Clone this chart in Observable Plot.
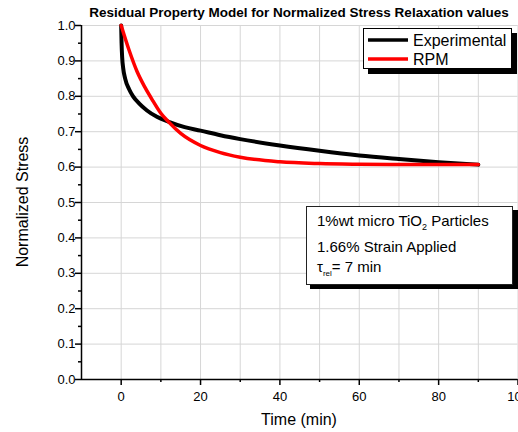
<!DOCTYPE html>
<html><head><meta charset="utf-8">
<script src="https://cdn.jsdelivr.net/npm/d3@7"></script>
<script src="https://cdn.jsdelivr.net/npm/@observablehq/plot@0.6"></script>
<style>
html,body{margin:0;padding:0;background:#fff;}
#chart{position:relative;width:518px;height:432px;overflow:hidden;}
</style></head><body><div id="chart"></div>
<script>
const chartTitle = "Residual Property Model for Normalized Stress Relaxation values";
const xLabel = "Time (min)";
const yLabel = "Normalized Stress";
const seriesNames = ["Experimental", "RPM"];
const seriesColors = ["#000000", "#ff0000"];

const expTime   = [0, 0.1, 0.25, 0.5, 1, 2, 3, 4.5, 6.5, 9, 12, 16, 20, 25, 30, 40, 50, 60, 70, 80, 90];
const expStress = [1.0, 0.95, 0.91, 0.88, 0.85, 0.82, 0.80, 0.78, 0.76, 0.742, 0.728, 0.713, 0.703, 0.690, 0.679, 0.661, 0.646, 0.633, 0.623, 0.614, 0.607];

const rpmTime   = [0, 2, 4, 6, 8, 10, 12, 15, 20, 25, 30, 40, 50, 60, 70, 80, 90];
const rpmStress = [1.0, 0.93, 0.87, 0.825, 0.787, 0.752, 0.727, 0.695, 0.661, 0.641, 0.628, 0.615, 0.610, 0.608, 0.607, 0.607, 0.607];

const xMajorTicks = [0, 20, 40, 60, 80, 100];
const xMinorTicks = [10, 30, 50, 70, 90];
const xGrid = [0, 10, 20, 30, 40, 50, 60, 70, 80, 90, 100];
const yMajorTicks = [0, 0.1, 0.2, 0.3, 0.4, 0.5, 0.6, 0.7, 0.8, 0.9, 1.0];
const yMinorTicks = [0.05, 0.15, 0.25, 0.35, 0.45, 0.55, 0.65, 0.75, 0.85, 0.95];

const expData = expTime.map((t, i) => ({t, s: expStress[i]}));
const rpmData = rpmTime.map((t, i) => ({t, s: rpmStress[i]}));

const font = "'Liberation Sans', Arial, sans-serif";

const plot = Plot.plot({
  width: 518, height: 432,
  marginLeft: 81, marginRight: 0.5, marginTop: 25, marginBottom: 53,
  style: {fontFamily: font, fontSize: "13px", color: "#000", background: "#fff", overflow: "visible"},
  x: {domain: [-10, 100]},
  y: {domain: [0, 1]},
  marks: [
    Plot.gridX(xGrid, {stroke: "#d6d6d6", strokeOpacity: 1, strokeWidth: 1}),
    Plot.gridY(yMajorTicks, {stroke: "#d6d6d6", strokeOpacity: 1, strokeWidth: 1}),
    Plot.axisX(xMajorTicks, {tickSize: 6, tickPadding: 6, strokeWidth: 1.5, tickFormat: d => String(d), label: null, fontSize: 13}),
    Plot.axisX(xMinorTicks, {tickSize: 3, strokeWidth: 1.5, tickFormat: () => "", label: null}),
    Plot.axisY(yMajorTicks, {tickSize: 6, tickPadding: 0, strokeWidth: 1.5, tickFormat: d => d.toFixed(1), label: null, fontSize: 13}),
    Plot.axisY(yMinorTicks, {tickSize: 3, strokeWidth: 1.5, tickFormat: () => "", label: null}),
    Plot.ruleX([-10], {stroke: "#000", strokeWidth: 1.5}),
    Plot.ruleY([0], {stroke: "#000", strokeWidth: 1.5}),
    Plot.line(expData, {x: "t", y: "s", stroke: seriesColors[0], strokeWidth: 4, curve: "monotone-x"}),
    Plot.line(rpmData, {x: "t", y: "s", stroke: seriesColors[1], strokeWidth: 3.5, curve: "monotone-x"})
  ]
});
document.getElementById("chart").appendChild(plot);

const svg = d3.select(plot);
// title
svg.append("text").attr("x", 299).attr("y", 17).attr("text-anchor", "middle")
  .style("font-family", font).style("font-size", "13.5px").style("font-weight", "bold").attr("fill", "#000").text(chartTitle);
// axis labels
svg.append("text").attr("x", 299).attr("y", 425).attr("text-anchor", "middle")
  .style("font-family", font).style("font-size", "16px").attr("fill", "#000").text(xLabel);
svg.append("text").attr("transform", "translate(28,202) rotate(-90)").attr("text-anchor", "middle")
  .style("font-family", font).style("font-size", "16px").attr("fill", "#000").text(yLabel);

// legend
const lg = svg.append("g").attr("text-anchor", "start");
lg.append("rect").attr("x", 368).attr("y", 33).attr("width", 149).attr("height", 41).attr("fill", "#000");
lg.append("rect").attr("x", 363.5).attr("y", 28.5).attr("width", 148).attr("height", 40).attr("fill", "#fff").attr("stroke", "#000").attr("stroke-width", 1);
seriesNames.forEach((name, i) => {
  const yy = 40 + i * 19;
  lg.append("line").attr("x1", 368).attr("x2", 408).attr("y1", yy).attr("y2", yy).attr("stroke", seriesColors[i]).attr("stroke-width", 3.5);
  lg.append("text").attr("x", 413).attr("y", yy + 6).attr("text-anchor", "start").style("font-family", font).style("font-size", "16px").attr("fill", "#000").text(name);
});

// annotation box
const ag = svg.append("g").attr("text-anchor", "start");
ag.append("rect").attr("x", 310).attr("y", 210).attr("width", 208).attr("height", 79).attr("fill", "#000");
ag.append("rect").attr("x", 306.5).attr("y", 206.5).attr("width", 206).attr("height", 78).attr("fill", "#fff").attr("stroke", "#222").attr("stroke-width", 1);
const t1 = ag.append("text").attr("x", 317).attr("y", 226).attr("text-anchor", "start").style("font-family", font).style("font-size", "15px").attr("fill", "#000");
t1.append("tspan").text("1%wt micro TiO");
t1.append("tspan").attr("dy", 4).style("font-size", "9px").text("2");
t1.append("tspan").attr("dy", -4).text(" Particles");
ag.append("text").attr("x", 317).attr("y", 252).attr("text-anchor", "start").style("font-family", font).style("font-size", "15px").attr("fill", "#000").text("1.66% Strain Applied");
const t3 = ag.append("text").attr("x", 317).attr("y", 272).attr("text-anchor", "start").style("font-family", font).style("font-size", "15px").attr("fill", "#000");
t3.append("tspan").text("τ");
t3.append("tspan").attr("dy", 4).style("font-size", "8px").text("rel");
t3.append("tspan").attr("dy", -4).text("= 7 min");
</script></body></html>
